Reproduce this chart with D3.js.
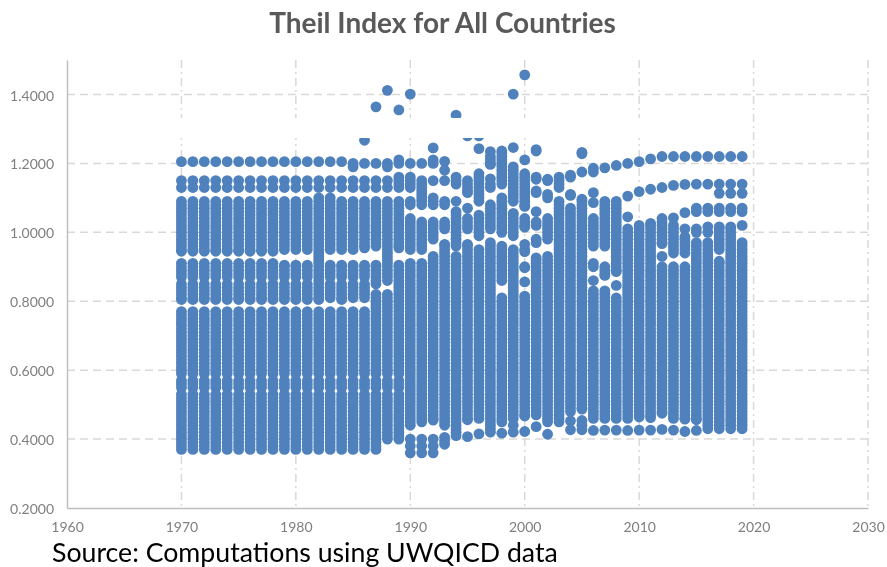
<!DOCTYPE html>
<html>
<head>
<meta charset="utf-8">
<script src="https://cdn.jsdelivr.net/npm/d3@7"></script>
<style>
  body { margin: 0; background: #fff; }
  text { font-family: Lato, sans-serif; }
</style>
</head>
<body>
<div id="chart-container"></div>
<script>
// Theil index per country, in hundredths
const theil1970 = [120.5,115,113,109,108,107,106,105,104,103,102,101,100,99,98,97,96,95,94.5,91,90,89,88,87,85,84,83,82,81,80.5,77,76,75,74,73,72,71,70,69,68,67,66,65,64,63,62,61,60,59,57,56,55,53,52,51,50,49,48,47,46,45,44,43,42,41,40,39,38,37];
const theil1979 = [120.5,115,113,109,108,107,106,105,104,103,102,101,100,99,98,97,96,95,90.5,90,89,88,87,85,84,83,82,81,80.5,77,76,75,74,73,72,71,70,69,68,67,66,65,64,63,62,61,60,59,57,56,55,53,52,51,50,49,48,47,46,45,44,43,42,41,40,39,38,37];
const theil1982 = [120.5,115,113,110,109,108,107,106,105,104,103,102,101,100,99,98,97,96,95,94,93,92,91,90,89,88,87,86,85,84,83,82,81,80.5,77,76,75,74,73,72,71,70,69,68,67,66,65,64,63,62,61,60,59,57,56,55,53,52,51,50,49,48,47,46,45,44,43,42,41,40,39,38,37];
const theil1983 = [120.5,115,113,110,109,108,107,106,105,104,103,102,101,100,99,98,97,96,95,90.5,90,89,88,87,85,84,83,82,81,77,76,75,74,73,72,71,70,69,68,67,66,65,64,63,62,61,60,59,57,56,55,53,52,51,50,49,48,47,46,45,44,43,42,41,40,39,38,37];
const theil1985 = [120,119,115,113,109,108,107,106,105,104,103,102,101,100,99,98,97,96,95,90.5,90,89,88,87,85,84,83,82,81,77,76,75,74,73,72,71,70,69,68,67,66,65,64,63,62,61,60,59,57,56,55,53,52,51,50,49,48,47,46,45,44,43,42,41,40,39,38,37];
const theil1986 = [126.7,120,115,113,109,108,107,106,105,104,103,102,101,100,99,98,97,96,95.5,90.5,90,89,88,87,85,84,83,82,81,77,76,75,74,73,72,71,70,69,68,67,66,65,64,63,62,61,60,59,57,56,55,53,52,51,50,49,48,47,46,45,44,43,42,41,40,39,38,37];
const theil1987 = [136.4,120,115,113,109,108,107,106,105,104,103,102,101,100,99,98,97,96,90.5,90,89,88,87,86,85,82,81,80,79,78,77,76,75,74,73,72,71,70,69,68,67,66,65,64,63,62,61,60,59,57,56,55,53,52,51,50,49,48,47,46,45,44,43,42,41,40,39,38,37];
const theil1988 = [141.2,120,119,115,113,109,108,107,106,105,104,103,102,101,100,99,98,97,96,95,94,93,92,91,90,89,88,87,86,82,81,80,79,78,77,76,75,74,73,72,71,70,69,68,67,66,65,64,63,62,61,60,59,57,56,55,53,52,51,50,49,48,47,46,45,44,43,42,41,40];
const theil1989 = [135.5,121,120,116,115,114,113,109,108,107,106,105,104,103,102,101,100,99,98,97,96,95.5,90.5,90,89,88,87,86,85,84,83,82,81,80,79,78,77,76,75,74,73,72,71,70,69,68,67,66,65,64,63,62,61,60,59,57,56,55,53,52,51,50,49,48,47,46,45,44,43,42,41,40];
const theil1990 = [140.1,120,116,115,114,113,109,108,104,103,102,101,100,99,98,97,96,95,91,90,89,88,87,86,85,84,83,82,81,80,79,78,77,76,75,74,73,72,71,70,69,68,67,66,65,64,63,62,61,60,59,58,57,56,55,54,53,52,51,50,49,48,47,46,45,44,40,38,36];
const theil1991 = [120,115,114,113,112,111,110,109,108,103,102,101,100,99,98,97,96,95,91,90,89,88,87,86,85,84,83,82,81,80,79,78,77,76,75,74,73,72,71,70,69,68,67,66,65,64,63,62,61,60,59,58,57,56,55,54,53,52,51,50,49,48,47,46,45,40,38,36];
const theil1992 = [124.5,121,120,115,110,109,108,103,102,101,100,99,98,93,92,91,90,89,88,87,86,85,84,83,82,81,80,79,78,77,76,75,74,73,72,71,70,69,68,67,66,65,64,63,62,61,60,59,58,57,56,55,54,53,52,51,50,49,48,47,46,45.5,40,38,36];
const theil1993 = [129,120.6,118,115,109,108,103,102,101,96.5,96,95,94,93,92,91,90,89,88,87,86,85,84,83,82,81,80,79,78,77,76,75,74,73,72,71,70,69,68,67,66,65,64,63,62,61,60,59,58,57,56,55,54,53,52,51,50,49,48,47,46,45,44,40.5,39.5,38.5];
const theil1994 = [134,116,115,114,109,106,105,104,103,102,101,100,99,98,97,96,93,92,91,90,89,88,87,86,85,84,83,82,81,80,79,78,77,76,75,74,73,72,71,70,69,68,67,66,65,64,63,62,61,60,59,58,57,56,55,54,53,52,51,50,49,48,47,46,45,44,43,42,41];
const theil1995 = [128,115,114,113,112,111.5,107,104,103,102,101,96.5,96,95,94,93,92,91,90,89,88,87,86,85,84,83,82,81,80,79,78,77,76,75,74,73,72,71,70,69,68,67,66,65,64,63,62,61,60,59,58,57,56,55,54,53,52,51,50,49,48,47,46,45.6,40.7];
const theil1996 = [128,124.3,117,116,115,114,113,112,111,110,109,105,104,103,102,101,100,99,95,94,93,92,91,90,89,88,87,86,85,84,83,82,81,80,79,78,77,76,75,74,73,72,71,70,69,68,67,66,65,64,63,62,61,60,59,58,57,56,55,54,53,52,51,50,49,48,47,46,41.5];
const theil1997 = [123.4,122,121,120,119.7,115.5,114,113,108,107,106,105,104,103,102,101,97,96,95,94,93,92,91,90,89,88,87,86,85,84,83,82,81,80,79,78,77,76,75,74,73,72,71,70,69,68,67,66,65,64,63,62,61,60,59,58,57,56,55,54,53,52,51,50,49,48,47,46,45,44,43,42];
const theil1998 = [123.6,123,122,121,120,119,118,117,116,115,114,110,109,108,107,106,105,104,103,102,101,100,96,95,94,93,92,91,90,89,88,87,86,81,80,79,78,77,76,75,74,73,72,71,70,69,68,67,66,65,64,63,62,61,60,59,58,57,56,55,54,53,52,51,50,49,48,47,46,45,41.7];
const theil1999 = [140.1,124.6,119,118,117,116,115,114,113,112,111,110,109,105.5,105,104,103,102,101,100,99,95,94,93,92,91,90,89,88,87,86,85,84,83,82,81,80,79,78,77,76,75,74,73,72,71,70,69,68,67,66,65,64,63,62,61,60,59,58,57,56,55,54,53,52,51,50,49,48,47,46,44,42];
const theil2000 = [145.7,121,117,116,115,114,113,112,111,110,109,108,107.5,104,103,102,101.5,96.5,95,94.4,90,89.7,85.6,81.5,81,80,79,78,77,76,75,74,73,72,71,70,69,68,67,66,65,64,63,62,61,60,59,58,57,56,55,54,53,52,51,50,49,48,47,46.7,42.2];
const theil2001 = [129,124,123.6,116,115.4,112,111.5,106,103,102,98,97,92.6,92,91,90,89,88,87,86,85,84,83,82,81,80,79,78,77,76,75,74,73,72,71,70,69,68,67,66,65,64,63,62,61,60,59,58,57,56,55,54,53,52,51,50,49,48,47,43.6];
const theil2002 = [115.4,115,111,110,104,103,102,101,100,99,98,93,92,91,90,89,88,87,86,85,84,83,82,81,80,79,78,77,76,75,74,73,72,71,70,69,68,67,66,65,64,63,62,61,60,59,58,57,56,55,54,53,52,51,50,49,48,47,46,45,41.4];
const theil2003 = [116,115,114,113,109,108,107,106,105,104,103,102,101,100,99,98,97,96,95,94,93,92,91,90,89,88,87,86,85,84,83,82,81,80,79,78,77,76,75,74,73,72,71,70,69,68,67,66,65,64,63,62,61,60,59,58,57,56,55,54,53,52,51,50,49,48,47,46,45];
const theil2004 = [116.6,116,111,110.7,107,106,105,104,103,102,101,100,99,98,97,96,95,94,93,92,91,90,89,88,87,86,85,84,83,82,81,80,79,78,77,76,75,74,73,72,71,70,69,68,67,66,65,64,63,62,61,60,59,58,57,56,55,54,53,52,51,50,49,48,45.3,42.7];
const theil2005 = [123.2,122.8,117.5,109.6,109,108,107,106,105,104,103,102,101,100,99,98,97,96,95,94,93,92,91,90,89,88,87,86,85,84,83,82,81,80,79,78,77,76,75,74,73,72,71,70,69,68,67,66,65,64,63,62,61,60,59,58,57,56,55,54,53,52,51,50,49,48.7,45.4,44,42.7];
const theil2006 = [118.6,117.5,111.5,108.6,104,103,102,101,100,99,98,97,96,91,90,86,83,82,81,80,79,78,77,76,75,74,73,72,71,70,69,68,67,66,65,64,63,62,61,60,59,58,57,56,55,54,53,52,51,50,49,48,47,46,42.5];
const theil2007 = [118.7,109,108,107,106,105,104,103,102,101,100,99,98,97,96,90,89,88,87.5,83,82,81,80,79,78,77,76,75,74,73,72,71,70,69,68,67,66,65,64,63,62,61,60,59,58,57,56,55,54,53,52,51,50,49,48,47,46,42.6];
const theil2008 = [119.4,109,108,107,106,105,104,103,102,101,100,99,98,97,96,95,94,93,92,91,90,89,88.6,84.6,81,80,79,78,77,76,75,74,73,72,71,70,69,68,67,66,65,64,63,62,61,60,59,58,57,56,55,54,53,52,51,50,49,48,47,46,42.6];
const theil2009 = [120,110.5,104.5,101,100,99,98,97,96,95,94,93,92,91,90,89,88,87,86,85,84,83,82,81,80,79,78,77,76,75,74,73,72,71,70,69,68,67,66,65,64,63,62,61,60,59,58,57,56,55,54,53,52,51,50,49,48,47,46,42.5];
const theil2010 = [120.5,111.8,102,101,100,99,98,97,96,95,94,93,92,91,90,89,88,87,86,85,84,83,82,81,80,79,78,77,76,75,74,73,72,71,70,69,68,67,66,65,64,63,62,61,60,59,58,57,56,55,54,53,52,51,50,49,48,47,46.4,42.6];
const theil2011 = [121.3,112.5,102.6,102,101,100,99,98,97,96,95,94,93,92,91,90,89,88,87,86,85,84,83,82,81,80,79,78,77,76,75,74,73,72,71,70,69,68,67,66,65,64,63,62,61,60,59,58,57,56,55,54,53,52,51,50,49,48,47,46.2,42.6];
const theil2012 = [122,113,104,103,102,101,100,99,98,97,96.7,93,90,89,88,87,86,85,84,83,82,81,80,79,78,77,76,75,74,73,72,71,70,69,68,67,66,65,64,63,62,61,60,59,58,57,56,55,54,53,52,51,50,49,48,47.5,42.8];
const theil2013 = [122,113.6,104.2,102,101,100,99,98,97,96,95,94,90,89,88,87,86,85,84,83,82,81,80,79,78,77,76,75,74,73,72,71,70,69,68,67,66,65,64,63,62,61,60,59,58,57,56,55,54,53,52,51,50,49,48,47,46,42.6];
const theil2014 = [122,113.9,105.7,101,98.7,98,97,96,95,94,90,89,88,87,86,85,84,83,82,81,80,79,78,77,76,75,74,73,72,71,70,69,68,67,66,65,64,63,62,61,60,59,58,57,56,55,54,53,52,51,50,49,48,47,46,45.8,42.2];
const theil2015 = [122,114,107,106,101,100,97,96,95,94,93,92,91,90,89,88,87,86,85,84,83,82,81,80,79,78,77,76,75,74,73,72,71,70,69,68,67,66,65,64,63,62,61,60,59,58,57,56,55,54,53,52,51,50,49,48,47,46,45.6,42.5];
const theil2016 = [122,114,107,106,101.6,100,97,96,95,94,93,92,91,90,89,88,87,86,85,84,83,82,81,80,79,78,77,76,75,74,73,72,71,70,69,68,67,66,65,64,63,62,61,60,59,58,57,56,55,54,53,52,51,50,49,48,47,46,45,44,43];
const theil2017 = [122,114,111.3,107,106,101.6,101,100,99,98,97,96,95,91.6,91,90,89,88,87,86,85,84,83,82,81,80,79,78,77,76,75,74,73,72,71,70,69,68,67,66,65,64,63,62,61,60,59,58,57,56,55,54,53,52,51,50,49,48,47,46,45,44,43];
const theil2018 = [122,114,111.3,107,106,101.6,101,100,99,98,97,96,95,94,93,92,91,90,89,88,87,86,85,84,83,82,81,80,79,78,77,76,75,74,73,72,71,70,69,68,67,66,65,64,63,62,61,60,59,58,57,56,55,54,53,52,51,50,49,48,47,46,45,44,43];
const theil2019 = [122,114,111.3,107,106,102,97,96,95,94,93,92,91,90,89,88,87,86,85,84,83,82,81,80,79,78,77,76,75,74,73,72,71,70,69,68,67,66,65,64,63,62,61,60,59,58,57,56,55,54,53,52,51,50,49,48,47,46,45,44,43];

const years = [1970,1971,1972,1973,1974,1975,1976,1977,1978,1979,1980,1981,1982,1983,1984,1985,1986,1987,1988,1989,1990,1991,1992,1993,1994,1995,1996,1997,1998,1999,2000,2001,2002,2003,2004,2005,2006,2007,2008,2009,2010,2011,2012,2013,2014,2015,2016,2017,2018,2019];
const columns = [theil1970,theil1970,theil1970,theil1970,theil1970,theil1970,theil1970,theil1970,theil1970,theil1979,theil1979,theil1979,theil1982,theil1983,theil1979,theil1985,theil1986,theil1987,theil1988,theil1989,theil1990,theil1991,theil1992,theil1993,theil1994,theil1995,theil1996,theil1997,theil1998,theil1999,theil2000,theil2001,theil2002,theil2003,theil2004,theil2005,theil2006,theil2007,theil2008,theil2009,theil2010,theil2011,theil2012,theil2013,theil2014,theil2015,theil2016,theil2017,theil2018,theil2019];

const xTicks = [1960,1970,1980,1990,2000,2010,2020,2030];
const yTicks = [0.2,0.4,0.6,0.8,1.0,1.2,1.4];

// Set dimensions
const width = 887;
const height = 567;
const plot = { left: 67, right: 868, top: 60, bottom: 508 };

// Set up the x and y scales
const x = d3.scaleLinear().domain([1960, 2030]).range([plot.left, plot.right]);
const y = d3.scaleLinear().domain([0.2, 1.5]).range([plot.bottom, plot.top]);

const svg = d3.select("#chart-container")
  .append("svg")
  .attr("width", width)
  .attr("height", height)
  .style("display", "block")
  .style("filter", "blur(0.5px)");

// Add horizontal gridlines
svg.selectAll(".yGrid")
  .data(yTicks.slice(1))
  .join("line")
  .attr("x1", plot.left)
  .attr("x2", plot.right)
  .attr("y1", d => y(d))
  .attr("y2", d => y(d))
  .attr("stroke", "#d9d9d9")
  .attr("stroke-width", 1.5)
  .attr("stroke-dasharray", "8,5");

// Add vertical gridlines
svg.selectAll(".xGrid")
  .data(xTicks.slice(1))
  .join("line")
  .attr("x1", d => x(d))
  .attr("x2", d => x(d))
  .attr("y1", plot.top)
  .attr("y2", plot.bottom)
  .attr("stroke", "#d9d9d9")
  .attr("stroke-width", 1.5)
  .attr("stroke-dasharray", "8,4,2,4");

// Add the dots
const points = years.flatMap((year, i) => columns[i].map(v => ({ year, value: v / 100 })));

svg.append("g")
  .selectAll("circle")
  .data(points)
  .join("circle")
  .attr("cx", d => x(d.year))
  .attr("cy", d => y(d.value))
  .attr("r", 5.4)
  .attr("fill", "#4f81bd");

// The reference has a blank strip over the chart here
svg.append("rect")
  .attr("x", 175)
  .attr("y", 118)
  .attr("width", 570)
  .attr("height", 20)
  .attr("fill", "#fff");

// Add the x-axis
svg.append("g")
  .attr("transform", `translate(0,${plot.bottom})`)
  .style("font-size", "14px")
  .call(d3.axisBottom(x).tickValues(xTicks).tickFormat(d3.format("d")).tickSize(0).tickPadding(14))
  .call(g => g.select(".domain").attr("stroke", "#bfbfbf").attr("stroke-width", 1.5))
  .selectAll(".tick text")
  .style("font-family", "Lato, sans-serif")
  .attr("fill", "#7f7f7f");

// Add the y-axis
svg.append("g")
  .attr("transform", `translate(${plot.left},0)`)
  .style("font-size", "14px")
  .call(d3.axisLeft(y).tickValues(yTicks).tickFormat(d3.format(".4f")).tickSize(0).tickPadding(13))
  .call(g => g.select(".domain").attr("stroke", "#bfbfbf").attr("stroke-width", 1.5))
  .selectAll(".tick text")
  .style("font-family", "Lato, sans-serif")
  .attr("dy", "0.4em")
  .attr("fill", "#7f7f7f");

// Add the chart title
svg.append("text")
  .attr("x", 442.5)
  .attr("y", 33)
  .attr("text-anchor", "middle")
  .style("font-size", "28px")
  .style("font-weight", "bold")
  .style("fill", "#595959")
  .text("Theil Index for All Countries");

// Add the source line
svg.append("text")
  .attr("x", 52)
  .attr("y", 562)
  .style("font-size", "26.7px")
  .style("fill", "#000")
  .text("Source: Computations using UWQICD data");
</script>
</body>
</html>
